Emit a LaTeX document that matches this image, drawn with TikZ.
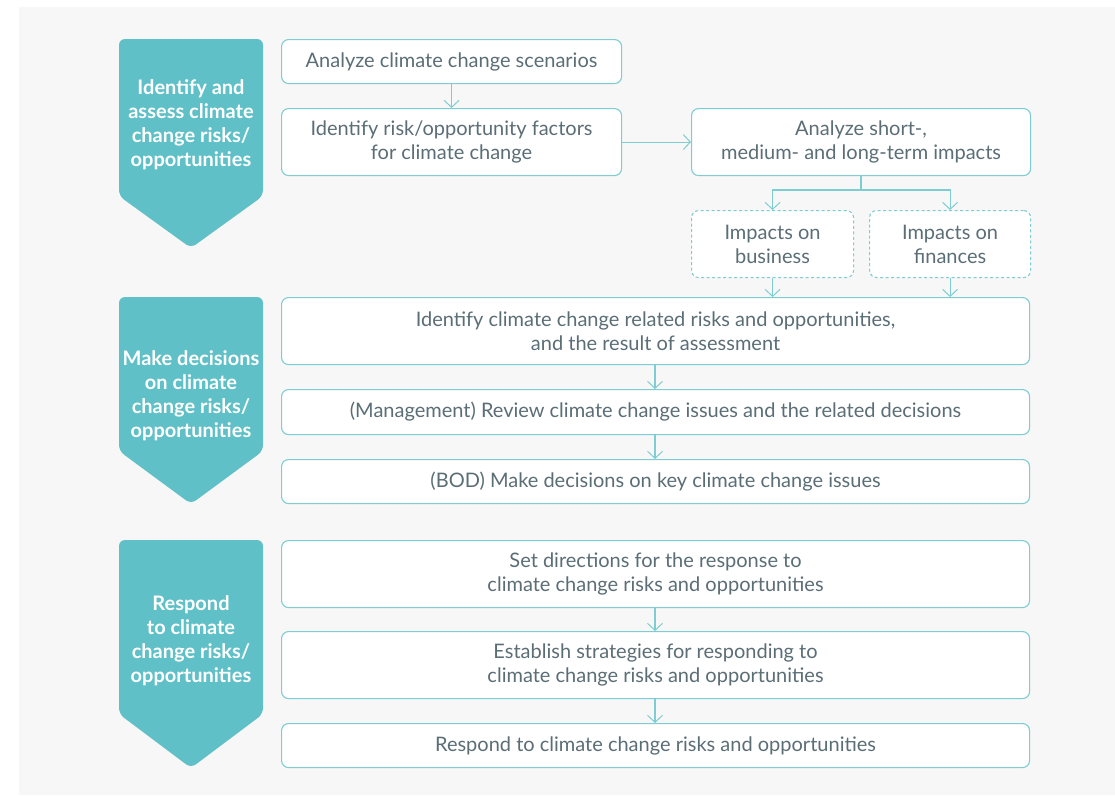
\documentclass[tikz,border=0pt]{standalone}
\usepackage{fontspec}
\setmainfont{Lato}
\usetikzlibrary{arrows.meta}
\definecolor{bggray}{HTML}{F7F7F7}
\definecolor{teal}{HTML}{60C0C7}
\definecolor{edge}{HTML}{7ECDD2}
\definecolor{txt}{HTML}{5B6E76}
\tikzset{
  box/.style={draw=edge, line width=1.1pt, fill=white, rounded corners=7pt, anchor=north west,
    inner sep=0pt, align=center, text=txt, font=\fontsize{20}{24}\selectfont},
  dbox/.style={box, dashed, dash pattern=on 3pt off 2.5pt},
  conn/.style={draw=edge, line width=1.1pt, -{Straight Barb[length=7pt,width=15pt,line width=1pt]}},
  plain/.style={draw=edge, line width=1.1pt},
  ptxt/.style={text=white, align=center, font=\bfseries\fontsize{20}{24}\selectfont},
  chevfill/.style={fill=teal, rounded corners=6pt}
}
\begin{document}
\begin{tikzpicture}[x=1pt,y=-1pt]
\useasboundingbox (0,0) rectangle (1115,795);
\fill[bggray] (19,7) rectangle (1115,795);
% left chevrons
\fill[chevfill] (119,196) -- (119,39) -- (263,39) -- (263,196) -- (191,248) -- cycle;
\node[ptxt] (p1) at (191,125) {Identify and\\assess climate\\change risks/\\opportunities};
\fill[chevfill] (119,451) -- (119,297) -- (263,297) -- (263,451) -- (191,504) -- cycle;
\node[ptxt] (p2) at (191,396) {Make decisions\\on climate\\change risks/\\opportunities};
\fill[chevfill] (119,714) -- (119,540) -- (263,540) -- (263,714) -- (191,768) -- cycle;
\node[ptxt] (p3) at (191,641) {Respond\\to climate\\change risks/\\opportunities};
% boxes
\node[box, minimum width=340pt, minimum height=44pt] (A) at (281,39) {Analyze climate change scenarios};
\node[box, minimum width=340pt, minimum height=67pt] (B) at (281,108) {Identify risk/opportunity factors\\for climate change};
\node[box, minimum width=339pt, minimum height=67pt] (C) at (691,108) {Analyze short-,\\medium- and long-term impacts};
\node[dbox, minimum width=162pt, minimum height=67pt] (D) at (691,210) {Impacts on\\business};
\node[dbox, minimum width=161pt, minimum height=67pt] (E) at (869,210) {Impacts on\\finances};
\node[box, minimum width=748pt, minimum height=67pt] (F) at (281,297) {Identify climate change related risks and opportunities,\\and the result of assessment};
\node[box, minimum width=748pt, minimum height=45pt] (G) at (281,389) {(Management) Review climate change issues and the related decisions};
\node[box, minimum width=748pt, minimum height=44pt] (H) at (281,459) {(BOD) Make decisions on key climate change issues};
\node[box, minimum width=748pt, minimum height=67pt] (I) at (281,540) {Set directions for the response to\\climate change risks and opportunities};
\node[box, minimum width=748pt, minimum height=67pt] (J) at (281,631) {Establish strategies for responding to\\climate change risks and opportunities};
\node[box, minimum width=748pt, minimum height=44pt] (K) at (281,723) {Respond to climate change risks and opportunities};
% connectors
\draw[conn] (A.south) -- (A.south |- B.north);
\draw[conn] (B.east) -- (C.west);
\coordinate (split) at (861,190);
\draw[plain] (C.south -| split) -- (split);
\draw[conn] (split) -| (D.north);
\draw[conn] (split) -| (E.north);
\draw[conn] (D.south) -- (D.south |- F.north);
\draw[conn] (E.south) -- (E.south |- F.north);
\coordinate (mid) at (655,0);
\draw[conn] (F.south -| mid) -- (G.north -| mid);
\draw[conn] (G.south -| mid) -- (H.north -| mid);
\draw[conn] (I.south -| mid) -- (J.north -| mid);
\draw[conn] (J.south -| mid) -- (K.north -| mid);
\end{tikzpicture}
\end{document}
